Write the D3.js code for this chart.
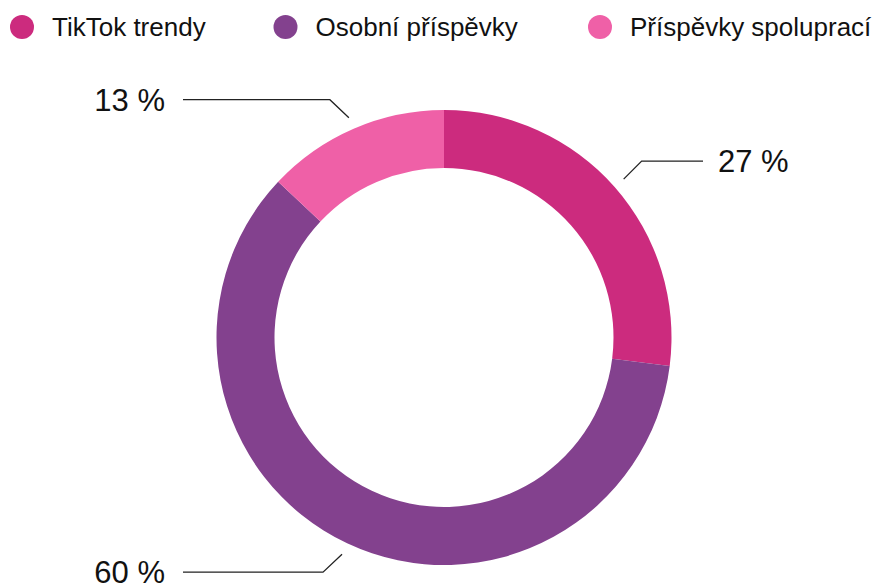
<!DOCTYPE html>
<html>
<head>
<meta charset="utf-8">
<script src="https://cdn.jsdelivr.net/npm/d3@7"></script>
<style>
  body { margin: 0; background: #fff; }
  svg { font-family: "Liberation Sans", Arial, sans-serif; }
</style>
</head>
<body>
<div id="chart"></div>
<script>
// data
var categories = ["TikTok trendy", "Osobní příspěvky", "Příspěvky spoluprací"];
var values = [27, 60, 13];
var colors = ["#cc2b7e", "#83418e", "#ef60a7"];

var width = 882, height = 586;
var cx = 444, cy = 337.5;
var outerR = 227.5, innerR = 169.5;

var svg = d3.select("#chart").append("svg")
    .attr("width", width)
    .attr("height", height);

// legend across the top
var legendX = [22, 285.5, 600];
var legend = svg.append("g");
categories.forEach(function(c, i) {
    legend.append("circle")
        .attr("cx", legendX[i])
        .attr("cy", 27)
        .attr("r", 12)
        .attr("fill", colors[i]);
    legend.append("text")
        .attr("x", legendX[i] + 30)
        .attr("y", 36)
        .style("font-size", "26px")
        .attr("fill", "#111")
        .text(c);
});

var data = categories.map(function(c, i) {
    return { name: c, value: values[i], color: colors[i] };
});

var pie = d3.pie().sort(null).value(d => d.value);
var arcs = pie(data);

var arc = d3.arc().innerRadius(innerR).outerRadius(outerR);
var labelArc = d3.arc().innerRadius(outerR + 12).outerRadius(outerR + 12);

var g = svg.append("g")
    .attr("transform", `translate(${cx},${cy})`);

g.selectAll("path.slice")
    .data(arcs)
    .enter()
    .append("path")
    .attr("class", "slice")
    .attr("d", arc)
    .attr("fill", d => d.data.color);

// leader lines with a 45 degree elbow, then flat to the label
var leftEnd = 183 - cx, rightEnd = 703 - cx;
g.selectAll("polyline")
    .data(arcs)
    .enter()
    .append("polyline")
    .attr("fill", "none")
    .attr("stroke", "#222")
    .attr("stroke-width", 1.3)
    .attr("points", function(d) {
        var p = labelArc.centroid(d);
        var right = p[0] > 0;
        var up = p[1] < 0;
        var e = [p[0] + (right ? 18 : -19), p[1] + (up ? -18 : 18)];
        var end = [right ? rightEnd : leftEnd, e[1]];
        return [p, e, end].map(q => q.join(",")).join(" ");
    });

g.selectAll("text.pct")
    .data(arcs)
    .enter()
    .append("text")
    .attr("class", "pct")
    .attr("x", d => labelArc.centroid(d)[0] > 0 ? rightEnd + 15 : leftEnd - 18)
    .attr("y", function(d) {
        var p = labelArc.centroid(d);
        return p[1] + (p[1] < 0 ? -18 : 18) + 11;
    })
    .style("text-anchor", d => labelArc.centroid(d)[0] > 0 ? "start" : "end")
    .style("font-size", "31px")
    .attr("fill", "#111")
    .text(d => d.data.value + " %");
</script>
</body>
</html>
